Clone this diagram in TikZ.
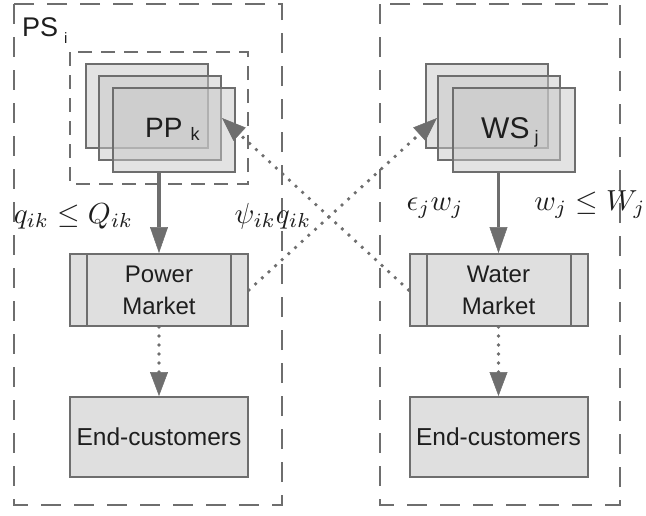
\documentclass[tikz,border=0pt]{standalone}
\usepackage{fontspec}
\setmainfont{Liberation Sans}
\usetikzlibrary{arrows.meta,calc}
\definecolor{lg}{HTML}{6E6E6E}
\definecolor{tx}{HTML}{1E1E1E}
\definecolor{boxfill}{HTML}{DFDFDF}
\begin{document}
\begin{tikzpicture}[x=1pt,y=-1pt,
  dashbox/.style={draw=lg, line width=2.2pt, dash pattern=on 20pt off 13pt},
  innerdash/.style={draw=lg, line width=2.2pt, dash pattern=on 14pt off 9pt},
  stackrect/.style={draw=lg, line width=2pt, fill=black!22, fill opacity=0.5, minimum width=122pt, minimum height=84pt, inner sep=0pt},
  market/.style={draw=lg, line width=2pt, fill=boxfill, minimum width=178pt, minimum height=72pt, inner sep=0pt, align=center, text=tx, font=\fontsize{24}{32}\selectfont},
  endbox/.style={draw=lg, line width=2pt, fill=boxfill, minimum width=178pt, minimum height=80pt, inner sep=0pt, text=tx, font=\fontsize{24.5}{30}\selectfont},
  solidarrow/.style={draw=lg, line width=3.5pt, -{Triangle[length=26pt,width=18pt,line width=0.5pt]}},
  dotarrow/.style={draw=lg, line width=3.8pt, line cap=round, dash pattern=on 0pt off 9pt, -{Triangle[length=24pt,width=18pt,line width=0.5pt]}},
  mathlabel/.style={text=tx, anchor=base, inner sep=0pt, scale=2.9},
  title/.style={text=tx, inner sep=0pt}
]
\useasboundingbox (0,0) rectangle (646,515);

% outer dashed boxes
\draw[dashbox] (14,4) rectangle (282,505);
\draw[dashbox] (380,4) rectangle (620,505);
% inner dashed box around power plants
\draw[innerdash] (70,52) rectangle (248,184);

% power plant stack
\node[stackrect] (ppA) at (147,106) {};
\node[stackrect] (ppB) at (160,118) {};
\node[stackrect] (ppC) at (174,130) {};
\node[title, anchor=base west] (pplabel) at (145,137) {\fontsize{28}{28}\selectfont PP\hspace{8pt}\raisebox{-3pt}{\fontsize{18}{18}\selectfont k}};

% water supplier stack
\node[stackrect] (wsA) at (486.5,106) {};
\node[stackrect] (wsB) at (499,118) {};
\node[stackrect] (wsC) at (514,130) {};
\node[title, anchor=base west] (wslabel) at (481,138) {\fontsize{30}{30}\selectfont WS\hspace{5pt}\raisebox{-5pt}{\fontsize{18}{18}\selectfont j}};

% PS label
\node[title, anchor=base west] (pslabel) at (22,36) {\fontsize{27}{27}\selectfont PS\hspace{6pt}\raisebox{-7pt}{\fontsize{15}{15}\selectfont i}};

% markets
\node[market] (pm) at (159,290) {Power\\Market};
\node[market] (wm) at (498.5,290) {Water\\Market};
\draw[lg, line width=2pt] ([xshift=18pt]pm.north west) -- ([xshift=18pt]pm.south west);
\draw[lg, line width=2pt] ([xshift=-18pt]pm.north east) -- ([xshift=-18pt]pm.south east);
\draw[lg, line width=2pt] ([xshift=18pt]wm.north west) -- ([xshift=18pt]wm.south west);
\draw[lg, line width=2pt] ([xshift=-18pt]wm.north east) -- ([xshift=-18pt]wm.south east);

% end customers
\node[endbox] (ec1) at (159,437) {End-customers};
\node[endbox] (ec2) at (498.5,437) {End-customers};

% arrows
\draw[solidarrow] (ppC.south -| pm.north) -- (pm.north);
\draw[solidarrow] (wsC.south -| wm.north) -- (wm.north);
\draw[dotarrow] (pm.south) -- (ec1.north);
\draw[dotarrow] (wm.south) -- (ec2.north);
\draw[dotarrow] (pm.east) -- (wsB.west);
\draw[dotarrow] (wm.west) -- (ppB.east);

% labels
\node[mathlabel] (l1) at (73.5,223) {$q_{ik}\leq Q_{ik}$};
\node[mathlabel] (l2) at (273,223) {$\psi_{ik}q_{ik}$};
\node[mathlabel] (l3) at (435,210) {$\epsilon_j w_j$};
\node[mathlabel] (l4) at (590,210) {$w_j\leq W_j$};
\end{tikzpicture}
\end{document}
